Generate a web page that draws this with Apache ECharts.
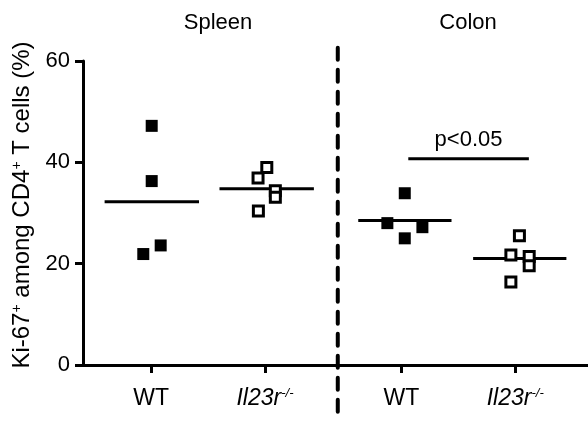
<!DOCTYPE html>
<html>
<head>
<meta charset="utf-8">
<script src="https://cdn.jsdelivr.net/npm/echarts@6/dist/echarts.min.js"></script>
<style>
  html, body { margin: 0; padding: 0; background: #fff; }
  #chart { width: 588px; height: 421px; }
</style>
</head>
<body>
<div id="chart"></div>
<script>
// group positions on the x axis (value axis, uneven gap between tissues)
var groupPos = [0.6, 1.6, 2.8, 3.8];
var groupLabels = ['WT', 'KO', 'WT', 'KO'];
var tissues = ['Spleen', 'Colon'];

// individual mice, [x, Ki-67+ %]
var spleenWT = [[0.604, 47.2], [0.604, 36.3], [0.530, 21.9], [0.683, 23.6]];
var spleenKO = [[1.616, 39.0], [1.539, 36.9], [1.691, 34.4], [1.691, 33.1], [1.542, 30.4]];
var colonWT = [[2.829, 33.9], [2.676, 28.0], [2.984, 27.2], [2.829, 25.0]];
var colonKO = [[3.837, 25.5], [3.762, 21.7], [3.923, 21.4], [3.923, 19.6], [3.762, 16.4]];

// group means and the x extent of each mean bar
var means = [32.2, 34.8, 28.5, 21.0];
var meanSpan = [[0.19, 1.02], [1.2, 2.03], [2.42, 3.24], [3.43, 4.25]];

// significance bar (colon WT vs KO)
var pBar = [[2.86, 40.7], [3.92, 40.7]];
var pText = 'p<0.05';

// dashed divider between tissues
var divider = [[2.24, 62.6], [2.24, -11]];

var font = 'Liberation Sans, Arial, sans-serif';
var chart = echarts.init(document.getElementById('chart'));

var series = [];
var groups = [spleenWT, spleenKO, colonWT, colonKO];
for (var i = 0; i < groups.length; i++) {
  var open = (i % 2 === 1);
  series.push({
    type: 'scatter',
    data: groups[i],
    symbol: 'rect',
    symbolSize: open ? 10 : 12,
    itemStyle: open
      ? { color: '#fff', borderColor: '#000', borderWidth: 3, opacity: 1 }
      : { color: '#000', opacity: 1 },
    z: 5
  });
}
for (var i = 0; i < means.length; i++) {
  series.push({
    type: 'line',
    data: [[meanSpan[i][0], means[i]], [meanSpan[i][1], means[i]]],
    symbol: 'none',
    lineStyle: { color: '#000', width: 3 },
    z: 4
  });
}
series.push({
  type: 'line',
  data: pBar,
  symbol: 'none',
  lineStyle: { color: '#000', width: 3 }
});
series.push({
  type: 'scatter',
  data: [[(pBar[0][0] + pBar[1][0]) / 2, pBar[0][1]]],
  symbolSize: 0,
  itemStyle: { opacity: 1 },
  label: {
    show: true, position: 'top', distance: 8, formatter: pText,
    color: '#000', fontSize: 22, fontFamily: font
  }
});
series.push({
  type: 'line',
  data: divider,
  symbol: 'none',
  clip: false,
  lineStyle: { color: '#000', width: 4, type: [12, 10], cap: 'round' }
});

function richSet(size, sup) {
  return {
    n: { fontSize: size, fontFamily: font, color: '#000' },
    i: { fontSize: size, fontFamily: font, color: '#000', fontStyle: 'italic' },
    s: { fontSize: sup, fontFamily: font, color: '#000', verticalAlign: 'top', padding: [0, 0, 10, 0] },
    si: { fontSize: sup, fontFamily: font, color: '#000', fontStyle: 'italic', verticalAlign: 'top', padding: [0, 0, 10, 0] }
  };
}

var option = {
  animation: false,
  title: [
    { text: tissues[0], left: 213, top: 7, textAlign: 'center',
      textStyle: { fontSize: 22, fontWeight: 'normal', fontFamily: font, color: '#000' } },
    { text: tissues[1], left: 463, top: 7, textAlign: 'center',
      textStyle: { fontSize: 22, fontWeight: 'normal', fontFamily: font, color: '#000' } }
  ],
  grid: { left: 83, right: 0, top: 61, bottom: 56, outerBoundsMode: 'none', containLabel: false },
  xAxis: {
    type: 'value',
    min: 0,
    max: 4.44,
    splitLine: { show: false },
    axisLine: { lineStyle: { color: '#000', width: 3 } },
    axisTick: {
      show: true, length: 8, lineStyle: { color: '#000', width: 3 },
      customValues: groupPos
    },
    axisLabel: {
      customValues: groupPos,
      margin: 22,
      formatter: function (v) {
        for (var k = 0; k < groupPos.length; k++) {
          if (Math.abs(groupPos[k] - v) < 1e-6) {
            return groupLabels[k] === 'WT' ? '{n|WT}' : '{i|Il23r}{si|-/-}';
          }
        }
        return '';
      },
      rich: richSet(23, 13)
    }
  },
  yAxis: {
    type: 'value',
    min: 0,
    max: 60,
    interval: 20,
    splitLine: { show: false },
    axisLine: { show: true, lineStyle: { color: '#000', width: 3 } },
    axisTick: { show: true, length: 8, lineStyle: { color: '#000', width: 3 } },
    axisLabel: { fontSize: 22, fontFamily: font, color: '#000', margin: 13 },
    name: '{n|Ki-67}{s|+}{n| among CD4}{s|+}{n| T cells (%)}',
    nameLocation: 'middle',
    nameRotate: 90,
    nameGap: 48,
    nameTextStyle: { rich: richSet(24, 14), padding: [0, 0, 0, 16] }
  },
  series: series
};
chart.setOption(option);
</script>
</body>
</html>
